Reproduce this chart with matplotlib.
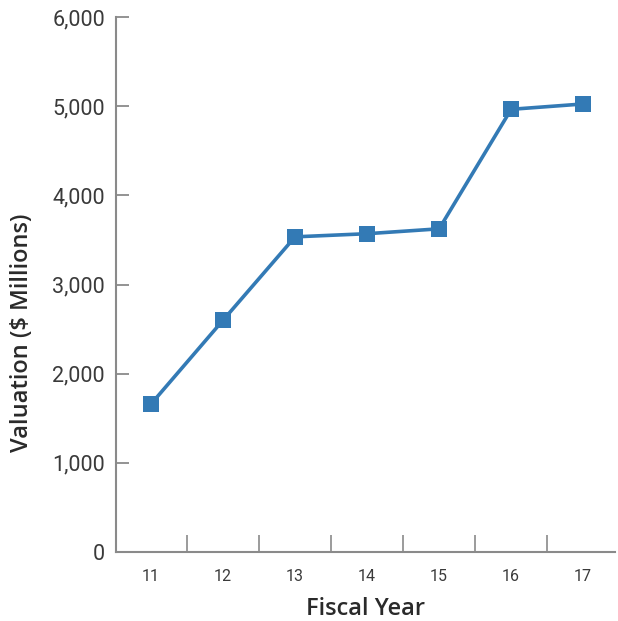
import matplotlib
matplotlib.use("Agg")
import matplotlib.pyplot as plt
from matplotlib.ticker import FixedLocator, FuncFormatter

# data
years = ["11", "12", "13", "14", "15", "16", "17"]
valuation = [1660, 2600, 3535, 3570, 3625, 4965, 5025]
y_ticks = [0, 1000, 2000, 3000, 4000, 5000, 6000]

line_color = "#337ab5"
spine_color = "#8a8a8a"
tick_font = ["Roboto", "DejaVu Sans"]
label_font = ["Open Sans", "DejaVu Sans"]

fig = plt.figure(figsize=(6.18, 6.21), dpi=100)
ax = fig.add_axes([0.1877, 0.111, 0.8073, 0.8616])

x = list(range(len(years)))
ax.plot(x, valuation, color=line_color, linewidth=2.6, marker="s",
        markersize=11.5, markerfacecolor=line_color, markeredgewidth=0, zorder=3)

ax.set_xlim(-0.486, 6.44)
ax.set_ylim(0, 6000)

for s in ["top", "right"]:
    ax.spines[s].set_visible(False)
for s in ["left", "bottom"]:
    ax.spines[s].set_color(spine_color)
    ax.spines[s].set_linewidth(1.5)

ax.set_yticks(y_ticks)
ax.yaxis.set_major_formatter(FuncFormatter(lambda v, p: f"{int(v):,}"))
ax.tick_params(axis="y", direction="in", length=9, width=1.3, color=spine_color,
               pad=8, labelsize=15.5, labelcolor="#3a3a3a")

ax.set_xticks(x)
ax.set_xticklabels(years)
ax.xaxis.set_minor_locator(FixedLocator([i + 0.5 for i in x[:-1]]))
ax.tick_params(axis="x", which="major", length=0, pad=12, labelsize=11.5, labelcolor="#3a3a3a")
ax.tick_params(axis="x", which="minor", direction="in", length=12, width=1.2, color=spine_color)

for lab in ax.get_yticklabels() + ax.get_xticklabels():
    lab.set_family(tick_font)

ax.set_xlabel("Fiscal Year", fontsize=17, family=label_font, weight="semibold",
              color="#2a2a2a", va="center")
ax.xaxis.set_label_coords(0.5, -0.1065)
ax.set_ylabel("Valuation ($ Millions)", fontsize=17, family=label_font, weight="semibold",
              color="#2a2a2a", va="center")
ax.yaxis.set_label_coords(-0.188, 0.41)

fig.savefig("out.png", dpi=100)
